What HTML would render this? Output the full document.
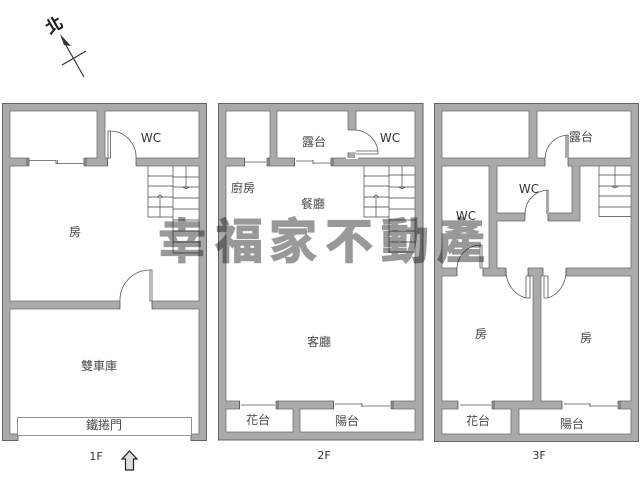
<!DOCTYPE html>
<html><head><meta charset="utf-8"><style>
html,body{margin:0;padding:0;background:#fff}
svg{display:block}
text{font-family:"Liberation Sans","Noto Sans CJK TC",sans-serif;fill:#4a4a4a;font-size:12px;text-anchor:middle}
.en{font-family:"DejaVu Sans","Liberation Sans",sans-serif;fill:#333;font-size:12px}
.wall{fill:#aaa;stroke:#666;stroke-width:1}
.room{fill:#fff;stroke:#666;stroke-width:.7}
.gap{fill:#fff;stroke:none}
.thin{fill:none;stroke:#555;stroke-width:.8}
.th{fill:none;stroke:#444;stroke-width:.7}
.wm{font-family:"Noto Sans CJK TC",sans-serif;font-weight:700;font-size:48px;fill:#999;stroke:#999;stroke-width:1.2;mix-blend-mode:multiply}
</style></head><body>
<svg width="640" height="480" viewBox="0 0 640 480" xmlns="http://www.w3.org/2000/svg">
<!-- compass -->
<g stroke="#333" fill="none" stroke-width="1.2"><path d="M63 40L84 77M62 65L86 51"/></g>
<path d="M60 34L71 46L64 45Z" fill="#333"/>
<text x="54" y="31" transform="rotate(-30 54 25)" style="font-size:17px;font-weight:700;fill:#222">北</text>

<!-- 1F -->
<rect class="wall" x="2.5" y="103.5" width="204" height="337"/>
<rect class="room" x="10" y="111" width="87" height="47"/>
<rect class="room" x="105" y="111" width="94" height="47"/>
<rect class="room" x="10" y="166" width="189" height="135"/>
<rect class="room" x="10" y="309" width="189" height="125"/>
<rect class="gap" x="18" y="425" width="173" height="17"/>
<path d="M18 434V441M191 434V441" stroke="#555" stroke-width=".8"/>
<rect x="17.5" y="417.5" width="174" height="18" fill="#fff" stroke="#777" stroke-width=".8"/>
<path d="M18 435.5H191" stroke="#999" stroke-width=".6"/>
<!-- 1F window -->
<rect class="gap" x="29" y="157" width="55" height="10"/>
<path d="M27 158V166M29 158V166M84 158V166M86 158V166" class="th"/>
<path d="M29 160.5H56M56 163.500H84M56 160V164M57.500 160V164" class="thin"/>
<!-- 1F wc door -->
<rect class="gap" x="108" y="157" width="28" height="10"/>
<path d="M107.500 158V166M136 158V166" class="th"/>
<path d="M108 131H110.500V158H108ZM110 131A26 26 0 0 1 136 158" class="thin"/>
<!-- 1F inner door -->
<rect class="gap" x="120" y="300" width="32" height="10"/>
<path d="M120 301V309M152 301V309" class="th"/>
<path d="M150 270H152V301H150ZM150 270A30 30 0 0 0 120 301" class="thin"/>
<!-- 1F stair -->
<g class="th"><path d="M148 166V217H173M173 166V253M199 177H173M199 187H173M199 198H173M199 209H173M199 220H173M199 231H173M199 242H173M199 253H173M148 176H173M148 186H173M148 197H173M148 207H173"/>
<path d="M186 166V188M183 187.500L186 188.500L189 187.500M160 197V217M157 197.500L160 195L163 197.500"/></g>

<!-- 2F -->
<rect class="wall" x="218.500" y="103.500" width="204.500" height="336.500"/>
<rect class="room" x="226" y="111" width="44" height="47"/>
<rect class="room" x="277" y="111" width="71" height="47"/>
<rect class="room" x="356" y="111" width="59" height="47"/>
<rect class="room" x="226" y="166" width="189" height="235"/>
<rect class="room" x="226" y="409" width="67" height="23"/>
<rect class="room" x="300" y="409" width="115" height="23"/>
<!-- 2F door -->
<rect class="gap" x="346" y="130" width="12" height="29"/>
<path d="M348 130H356M348 158V153H356" stroke="#555" fill="#aaa" stroke-width=".7"/>
<rect x="349" y="153" width="6" height="5" fill="#aaa"/>
<path d="M356 151H378V154H356M356 130A24 24 0 0 1 378 152" class="thin"/>
<!-- 2F windows -->
<rect class="gap" x="245" y="157" width="22" height="10"/>
<path d="M244.500 158V166M267 158V166M269 158V166" class="th"/>
<path d="M245 162H266" class="thin"/>
<rect class="gap" x="295" y="157" width="36" height="10"/>
<path d="M294.500 158V166M331 158V166M333 158V166" class="th"/>
<path d="M296 161H313M313 163H331M313 160V164" class="thin"/>
<!-- 2F stair -->
<g class="th"><path d="M364 166V217H389M389 166V253M415 175H389M415 187H389M415 198H389M415 209H389M415 220H389M415 231H389M415 242H389M415 252H389M364 176H389M364 186H389M364 197H389M364 207H389"/>
<path d="M402 166V188M399 187.500L402 188.500L405 187.500M376 197V217M373 197.500L376 195L379 197.500"/></g>
<!-- 2F bottom windows -->
<rect class="gap" x="240" y="400" width="36" height="10"/>
<path d="M239.500 401V409M276 401V409M278 401V409" class="th"/>
<path d="M241 405H275" class="thin"/>
<rect class="gap" x="334" y="400" width="57" height="10"/>
<path d="M333.500 401V409M391 401V409M393 401V409" class="th"/>
<path d="M335 404H362M362 406H390M362 403V407" class="thin"/>

<!-- 3F -->
<rect class="wall" x="434.500" y="103.500" width="204" height="338"/>
<rect class="room" x="442" y="111" width="87" height="47"/>
<rect class="room" x="537" y="111" width="94" height="47"/>
<rect class="room" x="442" y="166" width="47" height="102"/>
<path class="room" d="M497 166H572V213H497Z"/>
<path class="room" d="M580 166H631V268H497V221H580Z"/>
<rect class="room" x="442" y="276" width="91" height="125"/>
<rect class="room" x="541" y="276" width="90" height="125"/>
<rect class="room" x="442" y="409" width="69" height="25"/>
<rect class="room" x="519" y="409" width="112" height="25"/>
<!-- 3F top door -->
<rect class="gap" x="545" y="157" width="23" height="10"/>
<path d="M545 158V166M568 158V166" class="th"/>
<rect x="565" y="135" width="4" height="23" fill="#aaa"/>
<path d="M568 135A24 24 0 0 0 545 158" class="thin"/>
<!-- 3F inner WC door -->
<rect class="gap" x="525" y="212" width="23" height="10"/>
<path d="M525 213V221M548 213V221" class="th"/>
<rect x="546" y="190" width="3" height="24" fill="#aaa"/>
<path d="M548 190A24 24 0 0 0 525 213" class="thin"/>
<!-- 3F left WC door -->
<rect class="gap" x="457" y="267" width="26" height="10"/>
<path d="M457 268V276M483 268V276" class="th"/>
<path d="M480 245H482V268H480ZM480 245A24 24 0 0 0 457 268" class="thin"/>
<!-- 3F bedroom doors -->
<rect class="gap" x="506" y="267" width="22" height="10"/>
<rect class="gap" x="543" y="267" width="23" height="10"/>
<path d="M506 268V276M528 268V276M543 268V276M566 268V276" class="th"/>
<path d="M526 276H530V298H526ZM506 270A26 28 0 0 0 526 298" class="thin" fill="#fff"/>
<path d="M544 276H548V298H544ZM566 270A26 28 0 0 1 548 298" class="thin" fill="#fff"/>
<!-- 3F stair -->
<g class="th"><path d="M599 166V216.500M631 175H599M631 186H599M631 196H599M631 207H599M631 216.500H599"/>
<path d="M615 166V187M612 186.500L615 188L618 186.500"/></g>
<!-- 3F bottom windows -->
<rect class="gap" x="458" y="400" width="34" height="10"/>
<path d="M458 401V409M492 401V409M494 401V409" class="th"/>
<path d="M460 405H491" class="thin"/>
<rect class="gap" x="562" y="400" width="56" height="10"/>
<path d="M562 401V409M618 401V409M620 401V409" class="th"/>
<path d="M564 404H590M590 406H617M590 403V407" class="thin"/>

<!-- labels -->
<text class="en" x="151" y="142">WC</text>
<text x="75" y="236">房</text>
<text x="99" y="370">雙車庫</text>
<text x="104" y="429">鐵捲門</text>
<text x="96" y="460" class="en" style="font-size:11px">1F</text>
<path d="M129.500 451L137 459H133.500V470H125.500V459H122Z" fill="#ddd" stroke="#222" stroke-width="1.200"/>

<text class="en" x="390" y="142">WC</text>
<text x="314" y="146">露台</text>
<text x="243" y="192">廚房</text>
<text x="313" y="208">餐廳</text>
<text x="319" y="346">客廳</text>
<text x="258" y="424">花台</text>
<text x="347" y="425">陽台</text>
<text x="324" y="459" class="en" style="font-size:11px">2F</text>

<text class="en" x="529" y="193">WC</text>
<text class="en" x="466" y="220">WC</text>
<text x="581" y="141">露台</text>
<text x="481" y="338">房</text>
<text x="586" y="342">房</text>
<text x="478" y="425">花台</text>
<text x="572" y="428">陽台</text>
<text x="539" y="459" class="en" style="font-size:11px">3F</text>

<!-- watermark -->
<text class="wm" x="182" y="258">幸</text>
<text class="wm" x="239" y="258">福</text>
<text class="wm" x="293" y="258">家</text>
<text class="wm" x="349" y="258">不</text>
<text class="wm" x="405" y="258">動</text>
<text class="wm" x="461" y="258">產</text>
</svg>
</body></html>
